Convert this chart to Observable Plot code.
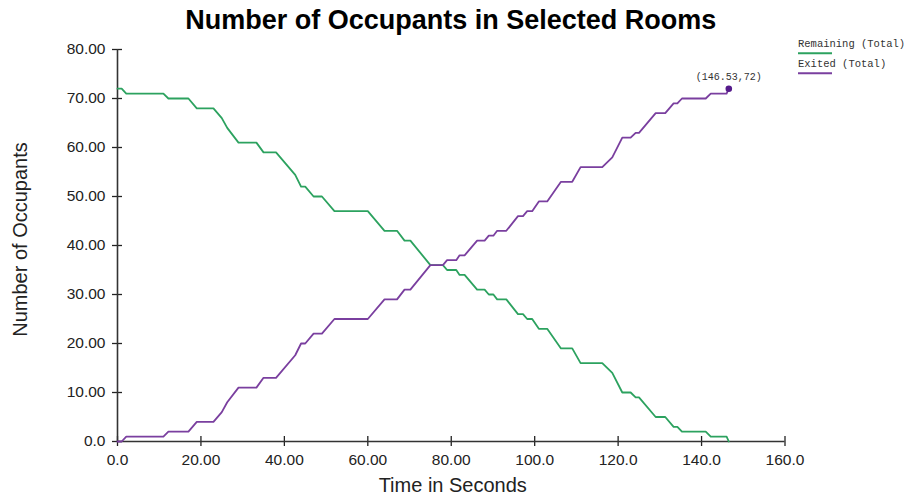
<!DOCTYPE html>
<html>
<head>
<meta charset="utf-8">
<script src="https://cdn.jsdelivr.net/npm/d3@7"></script>
<script src="https://cdn.jsdelivr.net/npm/@observablehq/plot@0.6"></script>
<style>
  html, body { margin: 0; padding: 0; background: #fff; }
</style>
</head>
<body>
<div id="chart"></div>
<script>
// ---- text ----
const title = "Number of Occupants in Selected Rooms";
const xLabel = "Time in Seconds";
const yLabel = "Number of Occupants";
const seriesNames = ["Remaining (Total)", "Exited (Total)"];
const seriesColors = ["#2ca25f", "#7a3f9f"];

// ---- data ----
const times = [0, 1, 2.1, 11, 12.2, 17, 19, 23, 25, 26.3, 29, 33.3, 35, 38,
  42.6, 44, 45, 47, 49, 52, 60, 64, 67, 68.8, 70.2, 75, 78, 79, 81.2, 82, 83.2,
  86.2, 88, 89, 90.1, 91, 93.2, 96, 97.2, 98.2, 99.4, 101, 103, 106.3, 109,
  111, 116.2, 118.6, 121, 123, 124.2, 125, 129, 131.3, 133.3, 134.2, 135.3,
  141, 142.2, 146, 146.53];
const remaining = [72, 72, 71, 71, 70, 70, 68, 68, 66, 64, 61, 61, 59, 59,
  54.4, 52, 52, 50, 50, 47, 47, 43, 43, 41, 41, 36, 36, 35, 35, 34, 34,
  31, 31, 30, 30, 29, 29, 26, 26, 25, 25, 23, 23, 19, 19,
  16, 16, 14, 10, 10, 9, 9, 5, 5, 3, 3, 2,
  2, 1, 1, 0];
const exited = [0, 0, 1, 1, 2, 2, 4, 4, 6, 8, 11, 11, 13, 13,
  17.6, 20, 20, 22, 22, 25, 25, 29, 29, 31, 31, 36, 36, 37, 37, 38, 38,
  41, 41, 42, 42, 43, 43, 46, 46, 47, 47, 49, 49, 53, 53,
  56, 56, 58, 62, 62, 63, 63, 67, 67, 69, 69, 70,
  70, 71, 71, 72];

// ---- ticks ----
const xTicks = [0, 20, 40, 60, 80, 100, 120, 140, 160];
const xTickLabels = ["0.0", "20.00", "40.00", "60.00", "80.00", "100.0", "120.0", "140.0", "160.0"];
const yTicks = [0, 10, 20, 30, 40, 50, 60, 70, 80];
const yTickLabels = ["0.0", "10.00", "20.00", "30.00", "40.00", "50.00", "60.00", "70.00", "80.00"];

// ---- table ----
const table = times.map((t, i) => ({t, remaining: remaining[i], exited: exited[i]}));
const lastPoint = [{t: times[times.length - 1], v: exited[exited.length - 1]}];

const sans = "'Liberation Sans', Arial, Helvetica, sans-serif";
const mono = "'Liberation Mono', 'Courier New', monospace";

function legend(index, scales, values, dimensions) {
  const x0 = dimensions.width - dimensions.marginRight + 13.5;
  const g = d3.create("svg:g");
  seriesNames.forEach((name, i) => {
    const base = 47 + i * 20;
    g.append("text")
      .attr("x", x0).attr("y", base)
      .attr("text-anchor", "start")
      .attr("font-family", mono).attr("font-size", 10.5)
      .attr("fill", "#333")
      .text(name);
    g.append("line")
      .attr("x1", x0).attr("x2", x0 + 34)
      .attr("y1", base + 6.3).attr("y2", base + 6.3)
      .attr("stroke", seriesColors[i]).attr("stroke-width", 2);
  });
  return g.node();
}

const chart = Plot.plot({
  width: 915,
  height: 497,
  marginLeft: 117,
  marginRight: 130.5,
  marginTop: 49,
  marginBottom: 56,
  style: {fontFamily: sans, background: "#fff", overflow: "visible"},
  x: {domain: [0, 160]},
  y: {domain: [0, 80]},
  marks: [
    Plot.axisY({ticks: yTicks, tickFormat: d => yTickLabels[yTicks.indexOf(d)],
      tickSize: 5, tickPadding: 7, fontSize: 15.5, color: "#222", strokeWidth: 1.3, label: null}),
    Plot.axisY({ticks: yTicks, tickFormat: () => "", tickSize: 5, dx: 5,
      color: "#222", strokeWidth: 1.3, label: null}),
    Plot.axisX({ticks: xTicks, tickFormat: d => xTickLabels[xTicks.indexOf(d)],
      tickSize: 5, tickPadding: 7, fontSize: 15.5, color: "#222", strokeWidth: 1.3, label: null}),
    Plot.axisX({ticks: xTicks, tickFormat: () => "", tickSize: 5, dy: -5,
      color: "#222", strokeWidth: 1.3, label: null}),
    Plot.ruleX([0], {stroke: "#333", strokeWidth: 1.6}),
    Plot.ruleY([0], {stroke: "#333", strokeWidth: 1.6}),
    Plot.line(table, {x: "t", y: "remaining", stroke: seriesColors[0], strokeWidth: 1.8}),
    Plot.line(table, {x: "t", y: "exited", stroke: seriesColors[1], strokeWidth: 1.8}),
    Plot.dot(lastPoint, {x: "t", y: "v", r: 3.3, fill: "#551a8b", stroke: null}),
    Plot.text(lastPoint, {x: "t", y: "v", text: d => `(${d.t},${d.v})`, dy: -12,
      fontFamily: mono, fontSize: 10, fill: "#333"}),
    Plot.text([title], {frameAnchor: "top", lineAnchor: "middle", textAnchor: "middle", dy: -29, dx: -0.5,
      fontSize: 27, fontWeight: "bold", fill: "#000"}),
    Plot.text([xLabel], {frameAnchor: "bottom", lineAnchor: "middle", textAnchor: "middle", dy: 44, dx: 1.5,
      fontSize: 20, fill: "#222"}),
    Plot.text([yLabel], {frameAnchor: "left", lineAnchor: "middle", textAnchor: "middle", rotate: -90,
      dx: -96.5, dy: -6, fontSize: 20, fill: "#222"}),
    legend
  ]
});

document.getElementById("chart").appendChild(chart);
</script>
</body>
</html>
